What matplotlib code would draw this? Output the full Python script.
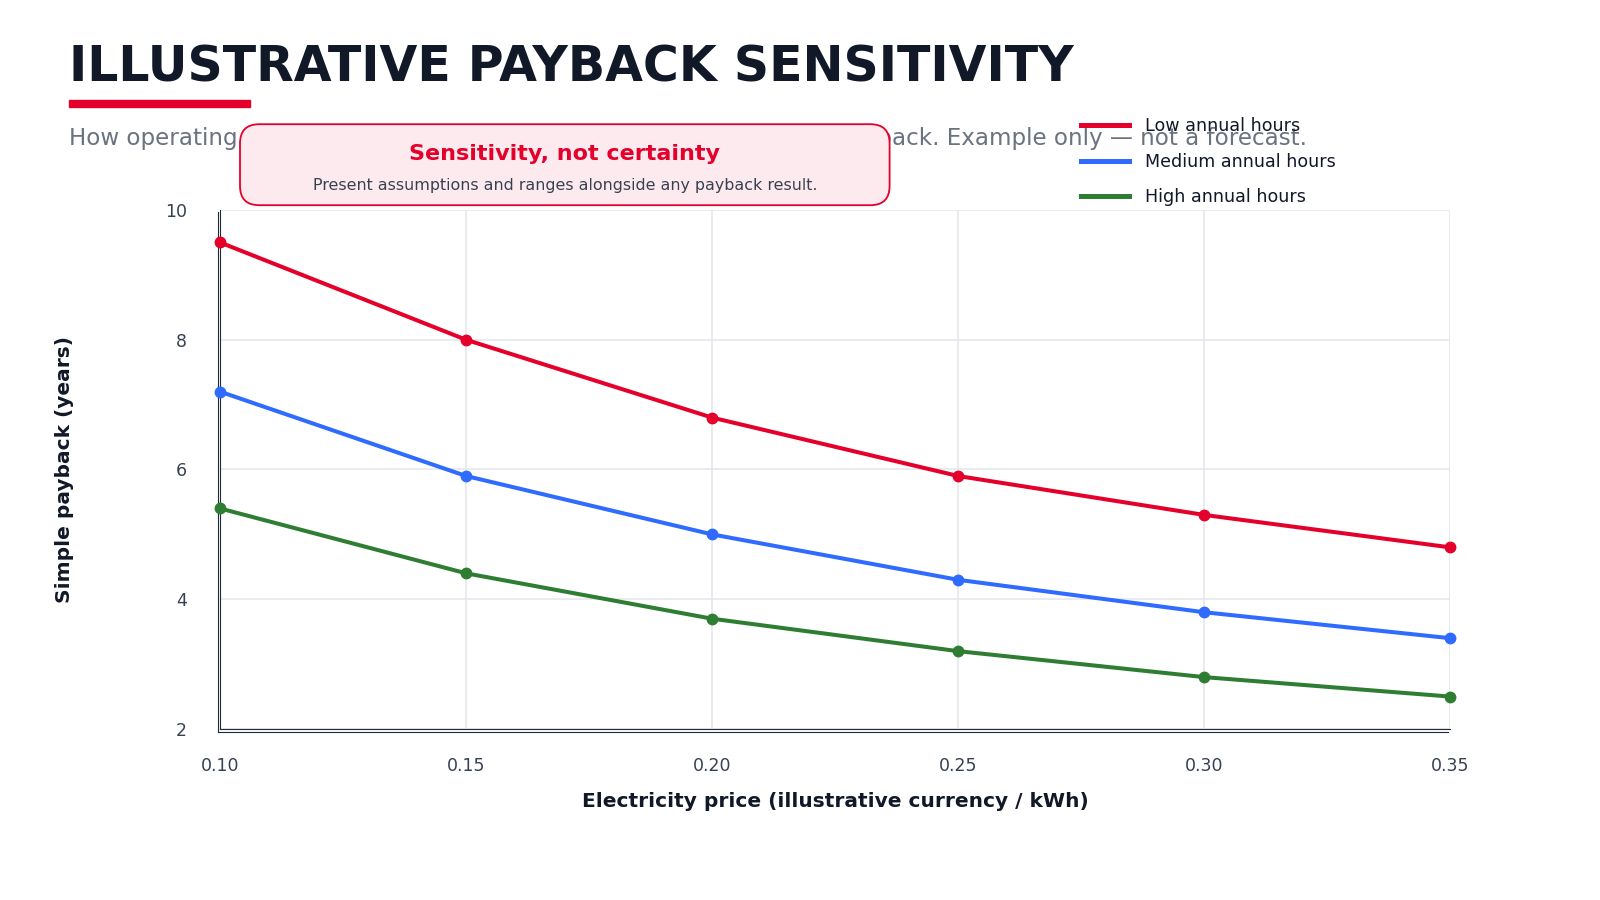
import numpy as np
import matplotlib.pyplot as plt
import matplotlib.transforms as mtransforms
from matplotlib.patches import FancyBboxPatch
from matplotlib.lines import Line2D

# Données (illustratives)
prices = [0.10, 0.15, 0.20, 0.25, 0.30, 0.35]
low_hours = [9.5, 8.0, 6.8, 5.9, 5.3, 4.8]
medium_hours = [7.2, 5.9, 5.0, 4.3, 3.8, 3.4]
high_hours = [5.4, 4.4, 3.7, 3.2, 2.8, 2.5]
series_names = ["Low annual hours", "Medium annual hours", "High annual hours"]
series_colors = ["#E4002B", "#2F6BFF", "#2E7D32"]
y_ticks = [2, 4, 6, 8, 10]

fig = plt.figure(figsize=(16, 9), dpi=100)
ax = fig.add_axes([0.1375, 0.19, 0.76875, 0.5767])

for vals, name, col in zip([low_hours, medium_hours, high_hours], series_names, series_colors):
    ax.plot(prices, vals, color=col, lw=2.9, marker="o", ms=7.5, label=name, zorder=3,
            clip_on=False)

ax.set_xlim(0.10, 0.35)
ax.set_ylim(2, 10)
ax.set_xticks(prices)
ax.set_xticklabels([f"{p:.2f}" for p in prices])
ax.set_yticks(y_ticks)
ax.grid(True, color="#E5E7EB", lw=1.2)
ax.set_axisbelow(True)
ax.tick_params(length=0, labelsize=12.5, labelcolor="#374151")
ax.tick_params(axis="x", pad=20.5)
ax.tick_params(axis="y", pad=24)
for s in ["top", "right"]:
    ax.spines[s].set_visible(False)
for s in ["left", "bottom"]:
    ax.spines[s].set_color("#1F2937")
    ax.spines[s].set_linewidth(0.8)

# second trait des axes (double ligne), décalé de quelques pixels vers l'extérieur
off = mtransforms.offset_copy(ax.transAxes, fig=fig, x=-2.5, y=-2.5, units="dots")
ax.add_line(Line2D([0, 0], [0, 1], transform=off, color="#1F2937",
                   lw=0.8, clip_on=False, zorder=2.5))
ax.add_line(Line2D([0, 1], [0, 0], transform=off, color="#1F2937",
                   lw=0.8, clip_on=False, zorder=2.5))

ax.set_xlabel("Electricity price (illustrative currency / kWh)", fontsize=14.5,
              fontweight="bold", color="#111827", labelpad=12)
ax.set_ylabel("Simple payback (years)", fontsize=14.5, fontweight="bold",
              color="#111827", labelpad=65)

# Titre
fig.text(0.043, 0.909, "ILLUSTRATIVE PAYBACK SENSITIVITY", fontsize=35.2, fontweight="bold",
         color="#111827", va="baseline", ha="left")
fig.patches.append(FancyBboxPatch((0.043, 0.881), 0.113, 0.008, boxstyle="square,pad=0",
                                  transform=fig.transFigure, color="#E4002B"))
fig.text(0.043, 0.839, "How operating hours and electricity price together change simple "
         "payback. Example only \u2014 not a forecast.", fontsize=16.6,
         color="#6B7280", va="baseline", ha="left")

# Encadré
box = FancyBboxPatch((0.150, 0.772), 0.406, 0.090, boxstyle="round,pad=0,rounding_size=0.012",
                     transform=fig.transFigure, facecolor="#FCEAEE", edgecolor="#E4002B",
                     lw=1.3, zorder=5, mutation_aspect=16 / 9)
fig.patches.append(box)
fig.text(0.353, 0.822, "Sensitivity, not certainty", fontsize=16, fontweight="bold",
         color="#E4002B", ha="center", va="baseline", zorder=6)
fig.text(0.353, 0.789, "Present assumptions and ranges alongside any payback result.",
         fontsize=11.4, color="#374151", ha="center", va="baseline", zorder=6)

handles = [Line2D([], [], color=c, lw=3.6) for c in series_colors]
leg = fig.legend(handles, series_names, loc="upper left", bbox_to_anchor=(0.6655, 0.887),
                 frameon=False, fontsize=12.6, handlelength=2.75, labelspacing=1.0,
                 handletextpad=0.95, labelcolor="#111827")

fig.savefig("out.png", dpi=100)
